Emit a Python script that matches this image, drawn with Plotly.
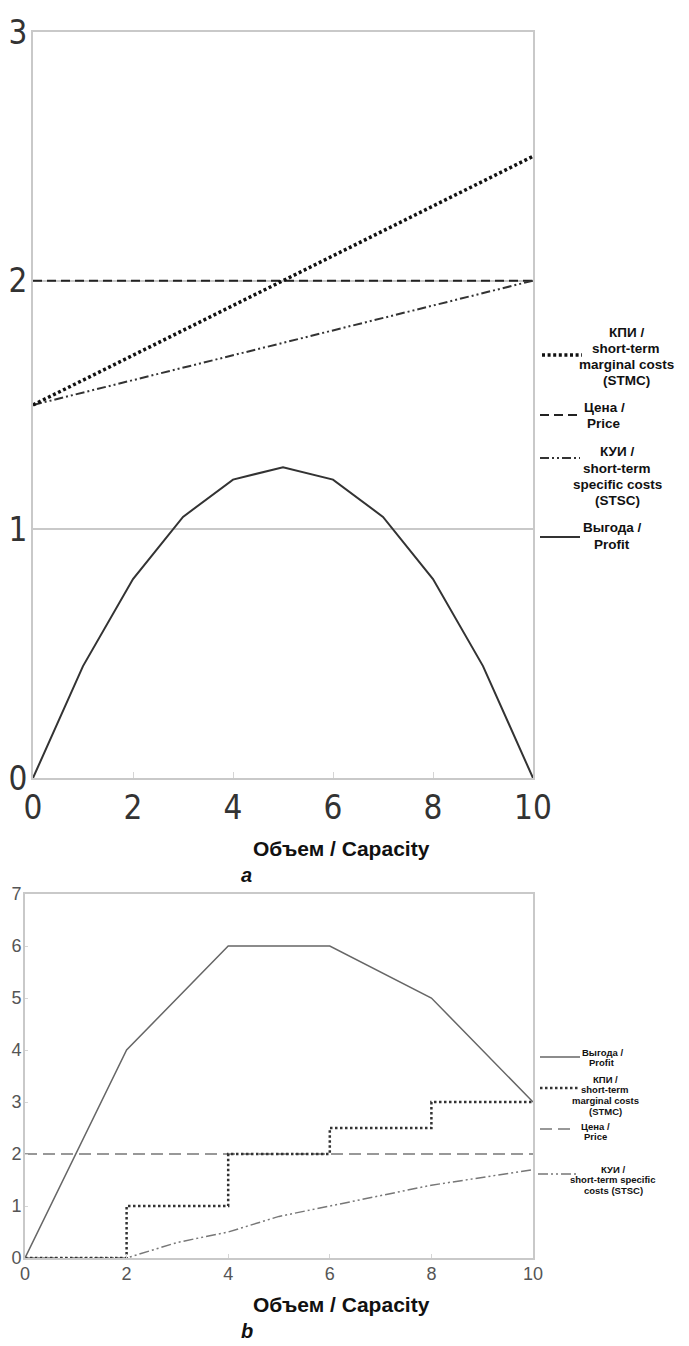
import plotly.graph_objects as go

W, H = 689, 1346

# ---------------- Panel a data ----------------
a_capacity = [0, 1, 2, 3, 4, 5, 6, 7, 8, 9, 10]
a_stmc = [1.5, 1.6, 1.7, 1.8, 1.9, 2.0, 2.1, 2.2, 2.3, 2.4, 2.5]
a_price = [2.0, 2.0, 2.0, 2.0, 2.0, 2.0, 2.0, 2.0, 2.0, 2.0, 2.0]
a_stsc = [1.5, 1.55, 1.6, 1.65, 1.7, 1.75, 1.8, 1.85, 1.9, 1.95, 2.0]
a_profit = [0, 0.45, 0.8, 1.05, 1.2, 1.25, 1.2, 1.05, 0.8, 0.45, 0]
a_xticks = [0, 2, 4, 6, 8, 10]
a_yticks = [0, 1, 2, 3]

# ---------------- Panel b data ----------------
b_capacity = [0, 1, 2, 3, 4, 5, 6, 7, 8, 9, 10]
b_profit_x = [0, 2, 4, 6, 8, 10]
b_profit = [0, 4, 6, 6, 5, 3]
b_stmc_x = [0, 2, 4, 6, 8, 10]
b_stmc = [0, 1, 2, 2.5, 3, 3]
b_price_x = [0, 10]
b_price = [2, 2]
b_stsc = [0, 0, 0, 0.3, 0.5, 0.8, 1.0, 1.2, 1.4, 1.55, 1.7]
b_xticks = [0, 2, 4, 6, 8, 10]
b_yticks = [0, 1, 2, 3, 4, 5, 6, 7]

# Legend labels
a_legend_names = [
    ["КПИ /", "short-term", "marginal costs", "(STMC)"],
    ["Цена /", "Price"],
    ["КУИ /", "short-term", "specific costs", "(STSC)"],
    ["Выгода /", "Profit"],
]
b_legend_names = [
    ["Выгода /", "Profit"],
    ["КПИ /", "short-term", "marginal costs", "(STMC)"],
    ["Цена /", "Price"],
    ["КУИ /", "short-term specific", "costs (STSC)"],
]
axis_title = "Объем / Capacity"


def px(x):
    return x / W


def py(y):
    return 1 - y / H


# styles
A_STMC = dict(color="#111111", width=3.5, dash="3px,2.6px")
A_PRICE = dict(color="#222222", width=2, dash="9px,5px")
A_STSC = dict(color="#333333", width=2, dash="9px,3px,2px,3px,2px,3px")
A_PROFIT = dict(color="#333333", width=2)

B_PROFIT = dict(color="#666666", width=1.5)
B_STMC = dict(color="#333333", width=2.5, dash="2.5px,2.5px")
B_PRICE = dict(color="#777777", width=1.5, dash="12px,6px")
B_STSC = dict(color="#777777", width=1.5, dash="10px,3px,2px,3px,2px,3px")

fig = go.Figure()

# Panel a traces
fig.add_trace(go.Scatter(x=a_capacity, y=a_price, mode="lines", line=A_PRICE,
                         xaxis="x", yaxis="y", showlegend=False))
fig.add_trace(go.Scatter(x=a_capacity, y=a_stsc, mode="lines", line=A_STSC,
                         xaxis="x", yaxis="y", showlegend=False))
fig.add_trace(go.Scatter(x=a_capacity, y=a_stmc, mode="lines", line=A_STMC,
                         xaxis="x", yaxis="y", showlegend=False))
fig.add_trace(go.Scatter(x=a_capacity, y=a_profit, mode="lines", line=A_PROFIT,
                         xaxis="x", yaxis="y", showlegend=False))

# Panel b traces
fig.add_trace(go.Scatter(x=b_price_x, y=b_price, mode="lines", line=B_PRICE,
                         xaxis="x2", yaxis="y2", showlegend=False))
fig.add_trace(go.Scatter(x=b_capacity, y=b_stsc, mode="lines", line=B_STSC,
                         xaxis="x2", yaxis="y2", showlegend=False))
fig.add_trace(go.Scatter(x=b_stmc_x, y=b_stmc, mode="lines", line=B_STMC, line_shape="hv",
                         xaxis="x2", yaxis="y2", showlegend=False))
fig.add_trace(go.Scatter(x=b_profit_x, y=b_profit, mode="lines", line=B_PROFIT,
                         xaxis="x2", yaxis="y2", showlegend=False))

frame = "#c9c9c9"
narrow = "Liberation Sans Narrow, DejaVu Sans Condensed, Arial Narrow, sans-serif"
arial = "Liberation Sans, Arial, sans-serif"

fig.update_layout(
    width=W, height=H,
    margin=dict(l=0, r=0, t=0, b=0, pad=0, autoexpand=False),
    paper_bgcolor="white", plot_bgcolor="white",
    xaxis=dict(domain=[px(33), px(533)], anchor="y", range=[0, 10], automargin=False,
               tickvals=a_xticks, ticktext=[str(v) for v in a_xticks],
               showline=True, mirror=True, linecolor=frame, linewidth=2,
               showgrid=False, zeroline=False,
               ticks="inside", ticklen=6, tickcolor="#d5d5d5", tickwidth=1,
               tickfont=dict(family=narrow, size=33, color="#333333"),
               ticklabelstandoff=-1),
    yaxis=dict(domain=[py(778), py(32)], anchor="x", range=[0, 3], automargin=False,
               tickvals=a_yticks, ticktext=[str(v) for v in a_yticks],
               showline=True, mirror=True, linecolor=frame, linewidth=2,
               showgrid=True, gridcolor=frame, gridwidth=1.5, zeroline=False,
               ticks="", tickfont=dict(family=narrow, size=33, color="#333333"),
               ticklabelstandoff=-3),
    xaxis2=dict(domain=[px(25), px(533)], anchor="y2", range=[0, 10], automargin=False,
                tickvals=b_xticks, ticktext=[str(v) for v in b_xticks],
                showline=True, mirror=True, linecolor=frame, linewidth=2,
                showgrid=False, zeroline=False,
                ticks="inside", ticklen=4, tickcolor="#d5d5d5", tickwidth=1,
                tickfont=dict(family=arial, size=18, color="#555555"),
                ticklabelstandoff=-2),
    yaxis2=dict(domain=[py(1258), py(894)], anchor="x2", range=[0, 7], automargin=False,
                tickvals=b_yticks, ticktext=[str(v) for v in b_yticks],
                showline=True, mirror=True, linecolor=frame, linewidth=2,
                showgrid=False, zeroline=False,
                ticks="inside", ticklen=3, tickcolor="#d5d5d5", tickwidth=1,
                tickfont=dict(family=arial, size=18, color="#555555"),
                ticklabelstandoff=-2),
    showlegend=False,
)

annotations = []
shapes = []

# axis titles and panel letters
for cy, letter_cy, letter in [(848, 875, "a"), (1304, 1331, "b")]:
    annotations.append(dict(x=px(341), y=py(cy), xref="paper", yref="paper",
                            text="<b>" + axis_title + "</b>", showarrow=False,
                            xanchor="center", yanchor="middle",
                            font=dict(family=arial, size=21, color="#111111")))
    annotations.append(dict(x=px(247), y=py(letter_cy), xref="paper", yref="paper",
                            text="<b><i>" + letter + "</i></b>", showarrow=False,
                            xanchor="center", yanchor="middle",
                            font=dict(family=arial, size=20, color="#111111")))

# custom legends: (line style, sample y, sample x0, x1, text cx, first-line y)
a_leg_layout = [
    (A_STMC, 355, 542, 582, 626, 332),
    (A_PRICE, 415, 540, 582, 604, 407),
    (A_STSC, 458, 540, 580, 617, 452),
    (A_PROFIT, 537, 540, 580, 612, 528),
]
b_leg_layout = [
    (B_PROFIT, 1057, 540, 580, 602, 1052),
    (B_STMC, 1088, 540, 580, 605, 1079),
    (B_PRICE, 1129, 540, 576, 595, 1126),
    (B_STSC, 1174, 538, 578, 613, 1169),
]


def add_legend(names, layouts, fsize, pitch):
    for lines, (style, sy, x0, x1, cx, ly) in zip(names, layouts):
        shapes.append(dict(type="line", xref="paper", yref="paper",
                           x0=px(x0), x1=px(x1), y0=py(sy), y1=py(sy),
                           line=dict(color=style["color"], width=style["width"],
                                     dash=style.get("dash", "solid"))))
        for i, t in enumerate(lines):
            annotations.append(dict(x=px(cx), y=py(ly + i * pitch), xref="paper", yref="paper",
                                    text="<b>" + t + "</b>", showarrow=False,
                                    xanchor="center", yanchor="middle",
                                    font=dict(family=arial, size=fsize, color="#111111")))


add_legend(a_legend_names, a_leg_layout, 13.5, 16.3)
add_legend(b_legend_names, b_leg_layout, 9.5, 10.8)

fig.update_layout(annotations=annotations, shapes=shapes)

fig.write_html("out.html", config={"displayModeBar": False},
               post_script="document.body.style.margin='0';document.body.style.padding='0';")
